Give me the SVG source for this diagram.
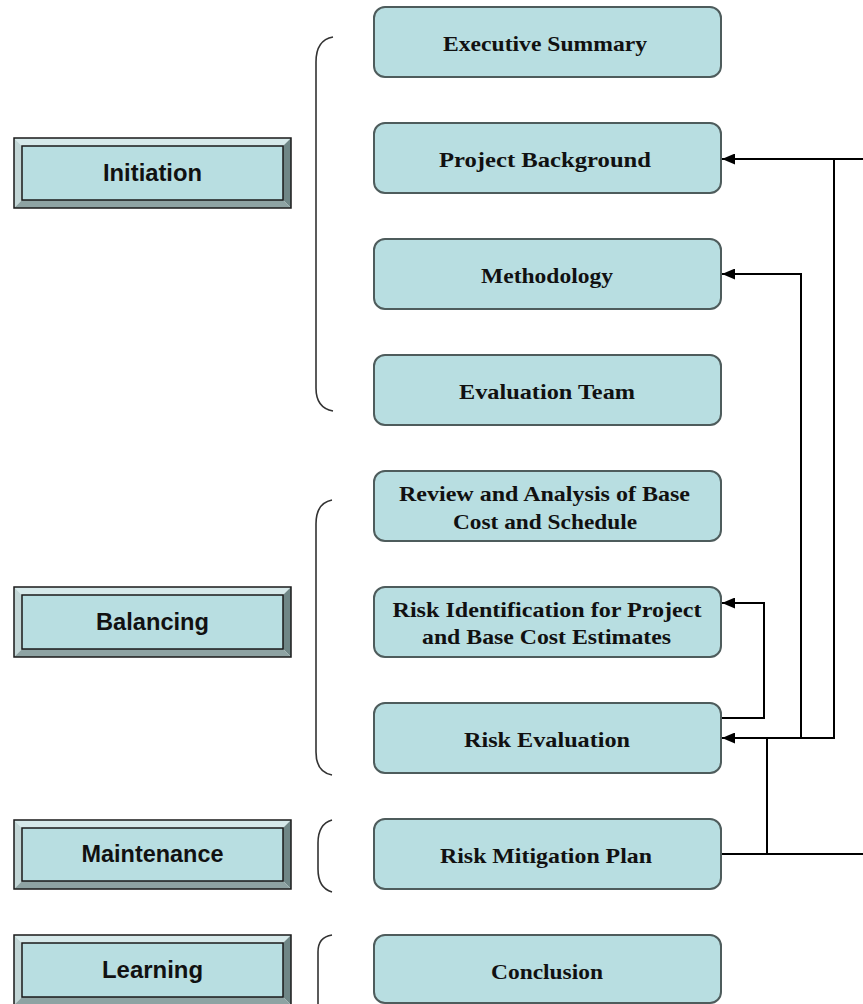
<svg xmlns="http://www.w3.org/2000/svg" width="863" height="1004" viewBox="0 0 863 1004">
  <defs>
    <marker id="arrow" viewBox="0 0 13 11" refX="13" refY="5.5" markerWidth="13" markerHeight="11" markerUnits="userSpaceOnUse" orient="auto">
      <path d="M0,0 L13,5.5 L0,11 Z" fill="#000"/>
    </marker>
    <style>
      .step { fill: #b8dee1; stroke: #4e5c5c; stroke-width: 2; }
      .step-text { font-family: "Liberation Serif", "Times New Roman", serif; font-weight: bold; font-size: 22px; fill: #111; text-anchor: middle; }
      .phase-face { fill: #b8dee1; stroke: #1a1a1a; stroke-width: 1.5; }
      .phase-outer { fill: none; stroke: #1a1a1a; stroke-width: 1.5; }
      .bev-top { fill: #d6e9ea; }
      .bev-left { fill: #c2d6d6; }
      .bev-right { fill: #6f8686; }
      .bev-bottom { fill: #8ea3a3; }
      .phase-text { font-family: "Liberation Sans", Arial, sans-serif; font-weight: bold; font-size: 24px; fill: #111; text-anchor: middle; }
      .brace { fill: none; stroke: #333; stroke-width: 1.6; }
      .link { fill: none; stroke: #000; stroke-width: 2; }
    </style>
  </defs>
  <rect width="863" height="1004" fill="#fff"/>

  <!-- phase buttons (bevelled) -->
  <g id="phase-initiation">
    <polygon class="bev-top" points="14,138 291,138 283,146 22,146"/>
    <polygon class="bev-left" points="14,138 22,146 22,200 14,208"/>
    <polygon class="bev-right" points="291,138 291,208 283,200 283,146"/>
    <polygon class="bev-bottom" points="14,208 22,200 283,200 291,208"/>
    <rect class="phase-outer" x="14" y="138" width="277" height="70"/>
    <rect class="phase-face" x="22" y="146" width="261" height="54"/>
    <text class="phase-text" x="152.5" y="181" textLength="99" lengthAdjust="spacingAndGlyphs">Initiation</text>
  </g>
  <g id="phase-balancing">
    <polygon class="bev-top" points="14,587 291,587 283,595 22,595"/>
    <polygon class="bev-left" points="14,587 22,595 22,649 14,657"/>
    <polygon class="bev-right" points="291,587 291,657 283,649 283,595"/>
    <polygon class="bev-bottom" points="14,657 22,649 283,649 291,657"/>
    <rect class="phase-outer" x="14" y="587" width="277" height="70"/>
    <rect class="phase-face" x="22" y="595" width="261" height="54"/>
    <text class="phase-text" x="152.5" y="630" textLength="113" lengthAdjust="spacingAndGlyphs">Balancing</text>
  </g>
  <g id="phase-maintenance">
    <polygon class="bev-top" points="14,820 291,820 283,828 22,828"/>
    <polygon class="bev-left" points="14,820 22,828 22,881 14,889"/>
    <polygon class="bev-right" points="291,820 291,889 283,881 283,828"/>
    <polygon class="bev-bottom" points="14,889 22,881 283,881 291,889"/>
    <rect class="phase-outer" x="14" y="820" width="277" height="69"/>
    <rect class="phase-face" x="22" y="828" width="261" height="53"/>
    <text class="phase-text" x="152.5" y="862" textLength="142" lengthAdjust="spacingAndGlyphs">Maintenance</text>
  </g>
  <g id="phase-learning">
    <polygon class="bev-top" points="14,935 291,935 283,943 22,943"/>
    <polygon class="bev-left" points="14,935 22,943 22,997 14,1005"/>
    <polygon class="bev-right" points="291,935 291,1005 283,997 283,943"/>
    <polygon class="bev-bottom" points="14,1005 22,997 283,997 291,1005"/>
    <rect class="phase-outer" x="14" y="935" width="277" height="70"/>
    <rect class="phase-face" x="22" y="943" width="261" height="54"/>
    <text class="phase-text" x="152.5" y="978" textLength="101" lengthAdjust="spacingAndGlyphs">Learning</text>
  </g>

  <!-- grouping braces -->
  <g id="braces">
    <path class="brace" d="M333,37 Q316,40 316,62 L316,388 Q316,408 333,411"/>
    <path class="brace" d="M332,500 Q316,503 316,524 L316,752 Q316,772 332,775"/>
    <path class="brace" d="M332,820 Q318,824 318,843 L318,869 Q318,888 332,892"/>
    <path class="brace" d="M332,935 Q318,937 318,952 L318,1004"/>
  </g>

  <!-- report sections -->
  <g id="step-executive-summary">
    <rect class="step" x="374" y="7" width="347" height="70" rx="11"/>
    <text class="step-text" x="545" y="51" textLength="204" lengthAdjust="spacingAndGlyphs">Executive Summary</text>
  </g>
  <g id="step-project-background">
    <rect class="step" x="374" y="123" width="347" height="70" rx="11"/>
    <text class="step-text" x="545" y="167" textLength="212" lengthAdjust="spacingAndGlyphs">Project Background</text>
  </g>
  <g id="step-methodology">
    <rect class="step" x="374" y="239" width="347" height="70" rx="11"/>
    <text class="step-text" x="547" y="283" textLength="132" lengthAdjust="spacingAndGlyphs">Methodology</text>
  </g>
  <g id="step-evaluation-team">
    <rect class="step" x="374" y="355" width="347" height="70" rx="11"/>
    <text class="step-text" x="547" y="399" textLength="176" lengthAdjust="spacingAndGlyphs">Evaluation Team</text>
  </g>
  <g id="step-review-analysis">
    <rect class="step" x="374" y="471" width="347" height="70" rx="11"/>
    <text class="step-text" x="544.5" y="501" textLength="291" lengthAdjust="spacingAndGlyphs">Review and Analysis of Base</text>
    <text class="step-text" x="545" y="529" textLength="184" lengthAdjust="spacingAndGlyphs">Cost and Schedule</text>
  </g>
  <g id="step-risk-identification">
    <rect class="step" x="374" y="587" width="347" height="70" rx="11"/>
    <text class="step-text" x="547" y="617" textLength="309" lengthAdjust="spacingAndGlyphs">Risk Identification for Project</text>
    <text class="step-text" x="546.5" y="644" textLength="249" lengthAdjust="spacingAndGlyphs">and Base Cost Estimates</text>
  </g>
  <g id="step-risk-evaluation">
    <rect class="step" x="374" y="703" width="347" height="70" rx="11"/>
    <text class="step-text" x="547" y="747" textLength="166" lengthAdjust="spacingAndGlyphs">Risk Evaluation</text>
  </g>
  <g id="step-risk-mitigation">
    <rect class="step" x="374" y="819" width="347" height="70" rx="11"/>
    <text class="step-text" x="546" y="863" textLength="212" lengthAdjust="spacingAndGlyphs">Risk Mitigation Plan</text>
  </g>
  <g id="step-conclusion">
    <rect class="step" x="374" y="935" width="347" height="68" rx="11"/>
    <text class="step-text" x="547" y="979" textLength="112" lengthAdjust="spacingAndGlyphs">Conclusion</text>
  </g>

  <!-- feedback connectors -->
  <g id="connectors">
    <path class="link" d="M863,159 H722" marker-end="url(#arrow)"/>
    <path class="link" d="M834,159 V738 H722" marker-end="url(#arrow)"/>
    <path class="link" d="M801,738 V274 H722" marker-end="url(#arrow)"/>
    <path class="link" d="M722,718 H764 V603 H722" marker-end="url(#arrow)"/>
    <path class="link" d="M722,854 H863"/>
    <path class="link" d="M767,854 V738"/>
  </g>
</svg>
